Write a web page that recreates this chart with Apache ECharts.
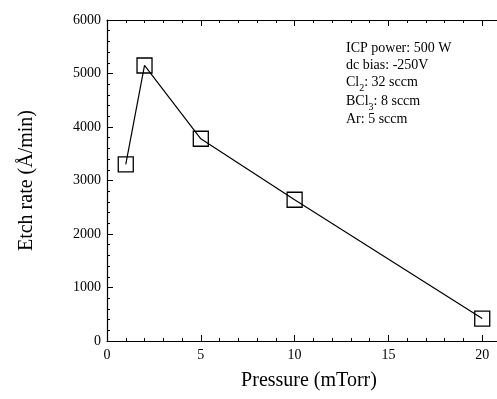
<!DOCTYPE html>
<html>
<head>
<meta charset="utf-8">
<script src="https://cdn.jsdelivr.net/npm/echarts@6/dist/echarts.min.js"></script>
<style>
  html, body { margin: 0; padding: 0; background: #fff; }
  #chart { width: 497px; height: 399px; }
</style>
</head>
<body>
<div id="chart"></div>
<script>
// Etch rate vs. chamber pressure
const pressure = [1, 2, 5, 10, 20];           // mTorr
const etchRate = [3300, 5150, 3780, 2640, 420]; // Å/min
const xTicks = [0, 5, 10, 15, 20];
const yTicks = [0, 1000, 2000, 3000, 4000, 5000, 6000];
const conditions = [
  ['ICP power: 500 W'],
  ['dc bias: -250V'],
  ['Cl', '2', ': 32 sccm'],
  ['BCl', '3', ': 8 sccm'],
  ['Ar: 5 sccm']
];

const FONT = '"Liberation Serif", "DejaVu Serif", serif';
const chart = echarts.init(document.getElementById('chart'), null, { renderer: 'canvas' });

const inTick = { show: true, inside: true, length: 6, lineStyle: { color: '#000', width: 1 } };
const inMinor = { show: true, splitNumber: 5, length: 3, lineStyle: { color: '#000', width: 1 } };
const axisLine = { show: true, lineStyle: { color: '#000', width: 1.2 } };

function showTick(list) {
  return v => (list.indexOf(Math.round(v * 1000) / 1000) >= 0 ? String(v) : '');
}

const rowTop = [41, 58, 75, 94, 112];
const graphic = conditions.map((parts, i) => {
  let text;
  if (parts.length === 1) {
    text = '{n|' + parts[0] + '}';
  } else {
    text = '{n|' + parts[0] + '}{s|' + parts[1] + '}{n|' + parts[2] + '}';
  }
  return {
    type: 'text',
    left: 346,
    top: rowTop[i],
    style: {
      text: text,
      rich: {
        n: { fontFamily: FONT, fontSize: 14, fill: '#000' },
        s: { fontFamily: FONT, fontSize: 10, fill: '#000', padding: [12, 0, 0, 0] }
      }
    }
  };
});

// The frame runs a little past the 20 mTorr tick and is cut at the page edge.
chart.setOption({
  animation: false,
  backgroundColor: '#fff',
  grid: { left: 107, top: 20, width: 394, bottom: 58, containLabel: false, outerBoundsMode: 'none' },
  xAxis: [
    {
      type: 'value', min: 0, max: 21, interval: 5,
      name: 'Pressure (mTorr)', nameLocation: 'middle', nameGap: 30,
      nameTextStyle: { fontFamily: FONT, fontSize: 20, color: '#000', padding: [0, 0, 0, 10] },
      axisLine: axisLine, axisTick: inTick, minorTick: inMinor,
      splitLine: { show: false },
      axisLabel: { fontFamily: FONT, fontSize: 14, color: '#000', margin: 7, formatter: showTick(xTicks) }
    },
    {
      type: 'value', min: 0, max: 21, interval: 5, position: 'top',
      axisLine: axisLine, axisTick: inTick, minorTick: inMinor,
      splitLine: { show: false }, axisLabel: { show: false }
    }
  ],
  yAxis: [
    {
      type: 'value', min: 0, max: 6000, interval: 1000,
      name: 'Etch rate (Å/min)', nameLocation: 'middle', nameGap: 70,
      nameTextStyle: { fontFamily: FONT, fontSize: 20, color: '#000' },
      axisLine: axisLine, axisTick: inTick, minorTick: inMinor,
      splitLine: { show: false },
      axisLabel: { fontFamily: FONT, fontSize: 14, color: '#000', margin: 6, formatter: showTick(yTicks) }
    }
  ],
  graphic: graphic,
  series: [
    {
      type: 'line',
      data: pressure.map((p, i) => [p, etchRate[i]]),
      symbol: 'rect',
      symbolSize: 15,
      showAllSymbol: true,
      lineStyle: { color: '#000', width: 1.2 },
      itemStyle: { color: 'rgba(0,0,0,0)', borderColor: '#000', borderWidth: 1.3 },
      z: 3
    }
  ]
});
</script>
</body>
</html>
